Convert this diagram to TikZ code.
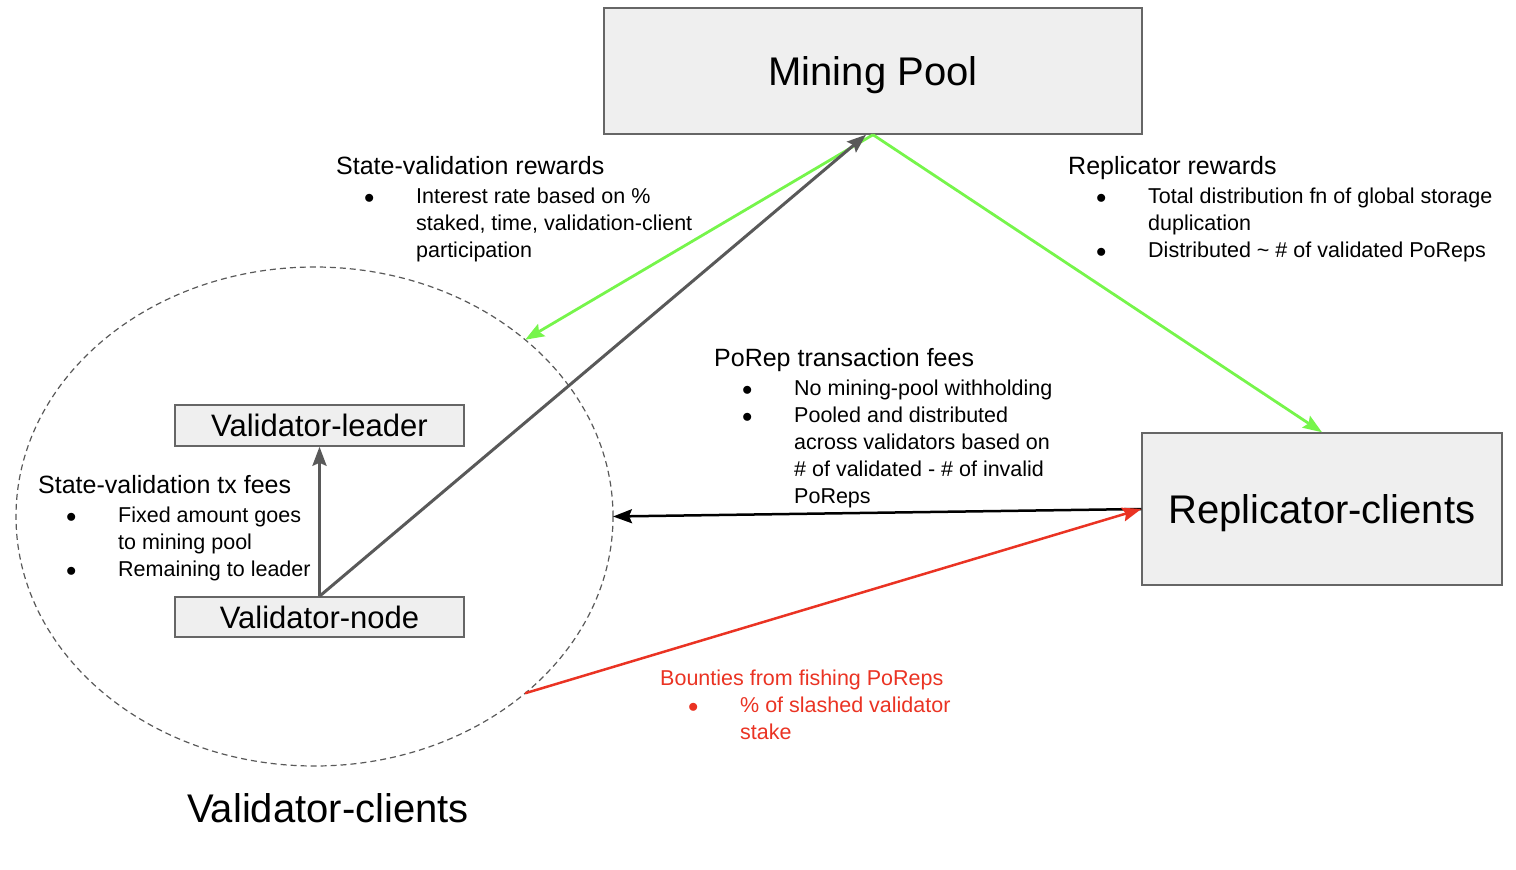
\documentclass[tikz,border=0pt]{standalone}
\usepackage{fontspec}
\setmainfont{Liberation Sans}
\usetikzlibrary{arrows.meta,shapes.geometric}
\definecolor{boxfill}{HTML}{EFEFEF}
\definecolor{boxline}{HTML}{666666}
\definecolor{arrgray}{HTML}{595959}
\definecolor{arrgreen}{HTML}{76F54B}
\definecolor{arrred}{HTML}{EA3323}
\newcommand{\vbul}{\makebox[80pt][l]{\hspace{28pt}$\bullet$}}
\newcommand{\vind}{\makebox[80pt]{}}
\newcommand{\vhead}[1]{{\fontsize{25}{27}\selectfont #1}\\[2pt]}

\begin{document}
\begin{tikzpicture}[x=1pt,y=-1pt,>={Stealth[length=19pt,width=14pt,inset=3pt]},
                    box/.style={draw=boxline,fill=boxfill,line width=1.5pt,inner sep=0pt,text depth=0pt},
                    note/.style={anchor=north west,inner sep=0pt,align=left,font=\fontsize{21.5}{27}\selectfont}]

  \useasboundingbox (0,0) rectangle (1516,870);

  \node[box,minimum width=538pt,minimum height=126pt,font=\fontsize{40}{48}\selectfont] (MP) at (873,71)     {Mining Pool};
  \node[box,minimum width=360pt,minimum height=152pt,font=\fontsize{40}{48}\selectfont] (RC) at (1322,509)   {Replicator-clients};
  \node[box,minimum width=289pt,minimum height=41pt,font=\fontsize{31}{36}\selectfont]  (VL) at (319.5,425.5) {Validator-leader};
  \node[box,minimum width=289pt,minimum height=40pt,font=\fontsize{31}{36}\selectfont]  (VN) at (319.5,617)   {Validator-node};

  \node[ellipse,draw=arrgray,dash pattern=on 6pt off 4pt,line width=1.2pt,minimum width=597pt,
        minimum height=499pt,inner sep=0pt,outer sep=0pt] (VC) at (314.5,516.5) {};
  \node[font=\fontsize{40}{48}\selectfont] (VCL) at (328,808) {Validator-clients};

  % fee and reward notes
  \node[note] (SVR) at (336,156) {\vhead{State-validation rewards}\vbul Interest rate based on \%\\
                                  \vind staked, time, validation-client\\ \vind participation};
  \node[note] (RR) at (1068,156) {\vhead{Replicator rewards}\vbul Total distribution fn of global storage\\
                                  \vind duplication\\ \vbul Distributed \textasciitilde{} \# of validated PoReps};
  \node[note] (PTF) at (714,348) {\vhead{PoRep transaction fees}\vbul No mining-pool withholding\\
                                  \vbul Pooled and distributed\\ \vind across validators based on\\
                                  \vind \# of validated - \# of invalid\\ \vind PoReps};
  \node[note] (SVF) at (38,475)  {\vhead{State-validation tx fees}\vbul Fixed amount goes\\
                                  \vind to mining pool\\ \vbul Remaining to leader};
  \node[note,text=arrred] (BFP) at (660,670) {Bounties from fishing PoReps\\ \vbul\% of slashed validator\\
                                  \vind stake};

  \path[->,arrgreen,line width=2.8pt] (MP.south) edge (VC.40) edge (RC.north);
  \path[->,arrgray,line width=3pt] (VN.north) edge (VL.south) edge ([xshift=-7pt]MP.south);
  \draw[->,black,line width=2.5pt] (RC.west) -- (VC.east);
  \draw[->,arrred,line width=2.5pt] (VC.-40) -- (RC.west);

\end{tikzpicture}
\end{document}
